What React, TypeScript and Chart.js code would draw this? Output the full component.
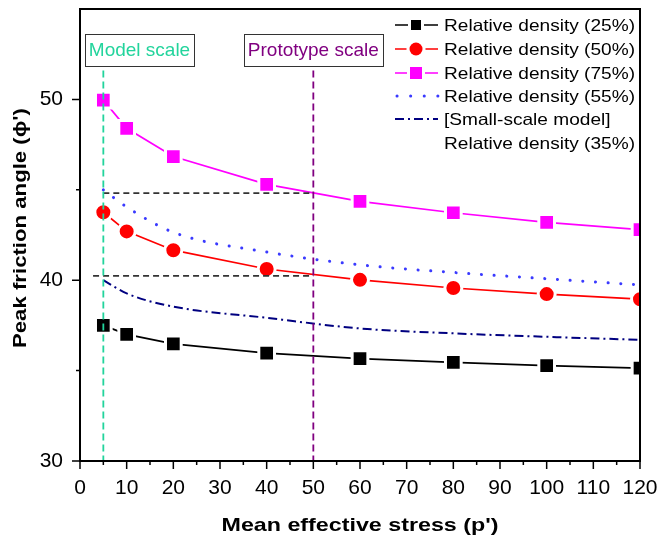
import React, { useEffect, useRef } from "react";
import { Chart, registerables } from "chart.js";

Chart.register(...registerables);

// ---- data ----
const stress = [5, 10, 20, 40, 60, 80, 100, 120];
const rd25 = [37.5, 37.0, 36.48, 35.97, 35.66, 35.46, 35.28, 35.14];
const rd50 = [43.76, 42.7, 41.66, 40.62, 40.02, 39.57, 39.23, 38.95];
const rd75 = [49.96, 48.4, 46.84, 45.3, 44.36, 43.73, 43.2, 42.8];
const rd55 = [45.0, 44.05, 42.65, 41.56, 40.85, 40.43, 40.08, 39.74];
const rd35 = [40.0, 39.27, 38.54, 37.92, 37.33, 37.06, 36.87, 36.7];

// reference lines
const modelScaleX = [5, 5];
const protoScaleX = [50, 50];
const refLineY = [51.6, 30];
const hLineUpperX = [5, 50];
const hLineUpperY = [44.82, 44.82];
const hLineLowerX = [2.8, 50];
const hLineLowerY = [40.24, 40.24];

// annotations (data coordinates of box centres)
const annoText = ["Model scale", "Prototype scale"];
const annoX = [12.75, 50];
const annoY = [52.73, 52.73];

const legendLabels = [
  "Relative density (25%)",
  "Relative density (50%)",
  "Relative density (75%)",
  "Relative density (55%)",
  "[Small-scale model]",
  "Relative density (35%)",
];

const xTitle = "Mean effective stress (p')";
const yTitle = "Peak friction angle (\u03D5')";

const GREEN = "#22d49c";
const PURPLE = "#800080";
const BLUE = "#3a3aff";
const NAVY = "#000080";
const MAGENTA = "#ff00ff";
const RED = "#ff0000";
const FONT = 'Arial, "Liberation Sans", sans-serif';

const pts = (xs: number[], ys: number[]) => xs.map((v, i) => ({ x: v, y: ys[i] }));

function drawScaledText(
  ctx: CanvasRenderingContext2D,
  text: string,
  x: number,
  y: number,
  sx: number,
  align: "left" | "center"
) {
  ctx.save();
  ctx.translate(x, y);
  ctx.scale(sx, 1);
  ctx.textAlign = align;
  ctx.fillText(text, 0, 0);
  ctx.restore();
}

const decorPlugin = {
  id: "decor",
  afterDraw(chart: any) {
    const ctx: CanvasRenderingContext2D = chart.ctx;
    const a = chart.chartArea;
    const xs = chart.scales.x;
    const ys = chart.scales.y;
    ctx.save();

    // frame
    ctx.strokeStyle = "#000";
    ctx.lineWidth = 2;
    ctx.setLineDash([]);
    ctx.strokeRect(a.left, a.top, a.right - a.left, a.bottom - a.top);

    // tick marks
    ctx.lineWidth = 1.5;
    ctx.beginPath();
    xs.ticks.forEach((t: any) => {
      const px = xs.getPixelForValue(t.value);
      const len = t.value % 10 === 0 ? 8 : 4;
      ctx.moveTo(px, a.bottom);
      ctx.lineTo(px, a.bottom + len);
    });
    ys.ticks.forEach((t: any) => {
      if (t.value >= 55) return;
      const py = ys.getPixelForValue(t.value);
      const len = t.value % 10 === 0 ? 8 : 4;
      ctx.moveTo(a.left, py);
      ctx.lineTo(a.left - len, py);
    });
    ctx.stroke();

    // annotation boxes
    ctx.font = `19px ${FONT}`;
    ctx.textBaseline = "middle";
    const annoColors = [GREEN, PURPLE];
    annoText.forEach((txt, i) => {
      const cx = xs.getPixelForValue(annoX[i]);
      const cy = ys.getPixelForValue(annoY[i]);
      const w = ctx.measureText(txt).width + 8;
      const h = 32;
      ctx.fillStyle = "#fff";
      ctx.fillRect(cx - w / 2, cy - h / 2, w, h);
      ctx.strokeStyle = "#333";
      ctx.lineWidth = 1;
      ctx.strokeRect(Math.round(cx - w / 2) + 0.5, Math.round(cy - h / 2) + 0.5, Math.round(w), h);
      ctx.fillStyle = annoColors[i];
      ctx.textAlign = "center";
      ctx.fillText(txt, cx, cy + 1);
    });

    // legend
    const lx0 = 395;
    const lx1 = 438;
    const mx = 416;
    const rowY = [25, 49, 73, 96, 119, 143];
    const styles = [
      { color: "#000", kind: "rect", size: 10, dash: [] as number[], width: 1.6 },
      { color: RED, kind: "circle", size: 13, dash: [] as number[], width: 1.6 },
      { color: MAGENTA, kind: "rect", size: 12, dash: [] as number[], width: 1.6 },
      { color: BLUE, kind: "dots", size: 0, dash: [0.1, 13.5], width: 3 },
      { color: NAVY, kind: "dashdot", size: 0, dash: [9, 4, 2, 4], width: 2 },
    ];
    styles.forEach((s, i) => {
      const y = rowY[i];
      ctx.strokeStyle = s.color;
      ctx.lineWidth = s.width;
      if (s.kind === "dots") {
        ctx.lineCap = "round";
        ctx.setLineDash(s.dash);
        ctx.beginPath();
        ctx.moveTo(lx0 + 2, y);
        ctx.lineTo(lx1, y);
        ctx.stroke();
        ctx.lineCap = "butt";
      } else if (s.kind === "dashdot") {
        ctx.setLineDash(s.dash);
        ctx.beginPath();
        ctx.moveTo(lx0, y);
        ctx.lineTo(lx1, y);
        ctx.stroke();
      } else {
        ctx.setLineDash([]);
        const g = s.size / 2 + 3;
        ctx.beginPath();
        ctx.moveTo(lx0, y);
        ctx.lineTo(mx - g, y);
        ctx.moveTo(mx + g, y);
        ctx.lineTo(lx1, y);
        ctx.stroke();
        ctx.fillStyle = s.color;
        if (s.kind === "circle") {
          ctx.beginPath();
          ctx.arc(mx, y, s.size / 2, 0, Math.PI * 2);
          ctx.fill();
        } else {
          ctx.fillRect(mx - s.size / 2, y - s.size / 2, s.size, s.size);
        }
      }
    });
    ctx.setLineDash([]);
    ctx.fillStyle = "#000";
    ctx.font = `16.5px ${FONT}`;
    ctx.textBaseline = "alphabetic";
    const lsx = 191 / ctx.measureText(legendLabels[0]).width;
    legendLabels.forEach((txt, i) => {
      drawScaledText(ctx, txt, 444, rowY[i] + 6, lsx, "left");
    });

    // axis titles
    ctx.font = `bold 19px ${FONT}`;
    ctx.fillStyle = "#000";
    const xsx = 277 / ctx.measureText(xTitle).width;
    drawScaledText(ctx, xTitle, (a.left + a.right) / 2, 531, xsx, "center");

    const ysx = 240 / ctx.measureText(yTitle).width;
    ctx.save();
    ctx.translate(26, 228);
    ctx.rotate(-Math.PI / 2);
    drawScaledText(ctx, yTitle, 0, 0, ysx, "center");
    ctx.restore();

    ctx.restore();
  },
};

export default function App() {
  const ref = useRef<HTMLCanvasElement>(null);

  useEffect(() => {
    const canvas = ref.current;
    if (!canvas) return;
    const refLine = (xs: number[], ysArr: number[], color: string, dash: number[], label: string) => ({
      label,
      data: pts(xs, ysArr),
      borderColor: color,
      borderWidth: 1.8,
      borderDash: dash,
      pointRadius: 0,
      fill: false,
    });
    const chart = new Chart(canvas, {
      type: "line",
      data: {
        datasets: [
          refLine(modelScaleX, refLineY, GREEN, [7, 4], "model"),
          refLine(protoScaleX, refLineY, PURPLE, [7, 4], "proto"),
          refLine(hLineUpperX, hLineUpperY, "#333", [6, 4], "h1"),
          refLine(hLineLowerX, hLineLowerY, "#333", [6, 4], "h2"),
          {
            label: "Relative density (25%)",
            data: pts(stress, rd25),
            borderColor: "#000",
            borderWidth: 1.8,
            pointStyle: "rect",
            pointRadius: 11.1,
            pointBackgroundColor: "#000",
            pointBorderColor: "#fff",
            pointBorderWidth: 3,
          },
          {
            label: "Relative density (50%)",
            data: pts(stress, rd50),
            borderColor: RED,
            borderWidth: 1.7,
            pointStyle: "circle",
            pointRadius: 8.5,
            pointBackgroundColor: RED,
            pointBorderColor: "#fff",
            pointBorderWidth: 3,
          },
          {
            label: "Relative density (75%)",
            data: pts(stress, rd75),
            borderColor: MAGENTA,
            borderWidth: 1.7,
            pointStyle: "rect",
            pointRadius: 11.1,
            pointBackgroundColor: MAGENTA,
            pointBorderColor: "#fff",
            pointBorderWidth: 3,
          },
          {
            label: "Relative density (55%)",
            data: pts(stress, rd55),
            borderColor: BLUE,
            borderWidth: 3,
            borderDash: [0.1, 12.6],
            borderCapStyle: "round",
            cubicInterpolationMode: "monotone",
            pointRadius: 0,
          },
          {
            label: "[Small-scale model] Relative density (35%)",
            data: pts(stress, rd35),
            borderColor: NAVY,
            borderWidth: 2,
            borderDash: [9, 4, 2, 4],
            cubicInterpolationMode: "monotone",
            pointRadius: 0,
          },
        ],
      },
      options: {
        responsive: false,
        animation: false,
        devicePixelRatio: 1,
        layout: { autoPadding: false, padding: { left: 0, top: 9, right: 21, bottom: 0 } },
        plugins: {
          legend: { display: false },
          tooltip: { enabled: false },
          title: { display: false },
        },
        scales: {
          x: {
            type: "linear",
            min: 0,
            max: 120,
            grid: { display: false, drawTicks: false },
            border: { display: false },
            ticks: {
              stepSize: 5,
              autoSkip: false,
              maxRotation: 0,
              padding: 15,
              color: "#000",
              font: { family: FONT, size: 21 },
              callback: (v: any) => (Number(v) % 10 === 0 ? String(v) : ""),
            },
            afterFit: (s: any) => {
              s.height = 81;
              s.paddingLeft = 0;
              s.paddingRight = 0;
            },
          },
          y: {
            type: "linear",
            min: 30,
            max: 55,
            grid: { display: false, drawTicks: false },
            border: { display: false },
            ticks: {
              stepSize: 5,
              autoSkip: false,
              padding: 17,
              color: "#000",
              font: { family: FONT, size: 21, lineHeight: 0.8 },
              callback: (v: any) => (Number(v) % 10 === 0 ? String(v) : ""),
            },
            afterFit: (s: any) => {
              s.width = 80;
              s.paddingTop = 0;
              s.paddingBottom = 0;
            },
          },
        },
      },
      plugins: [decorPlugin],
    } as any);
    return () => chart.destroy();
  }, []);

  return (
    <div style={{ position: "absolute", left: 0, top: 0, width: 661, height: 542, background: "#fff" }}>
      <canvas ref={ref} width={661} height={542} style={{ display: "block" }} />
    </div>
  );
}
